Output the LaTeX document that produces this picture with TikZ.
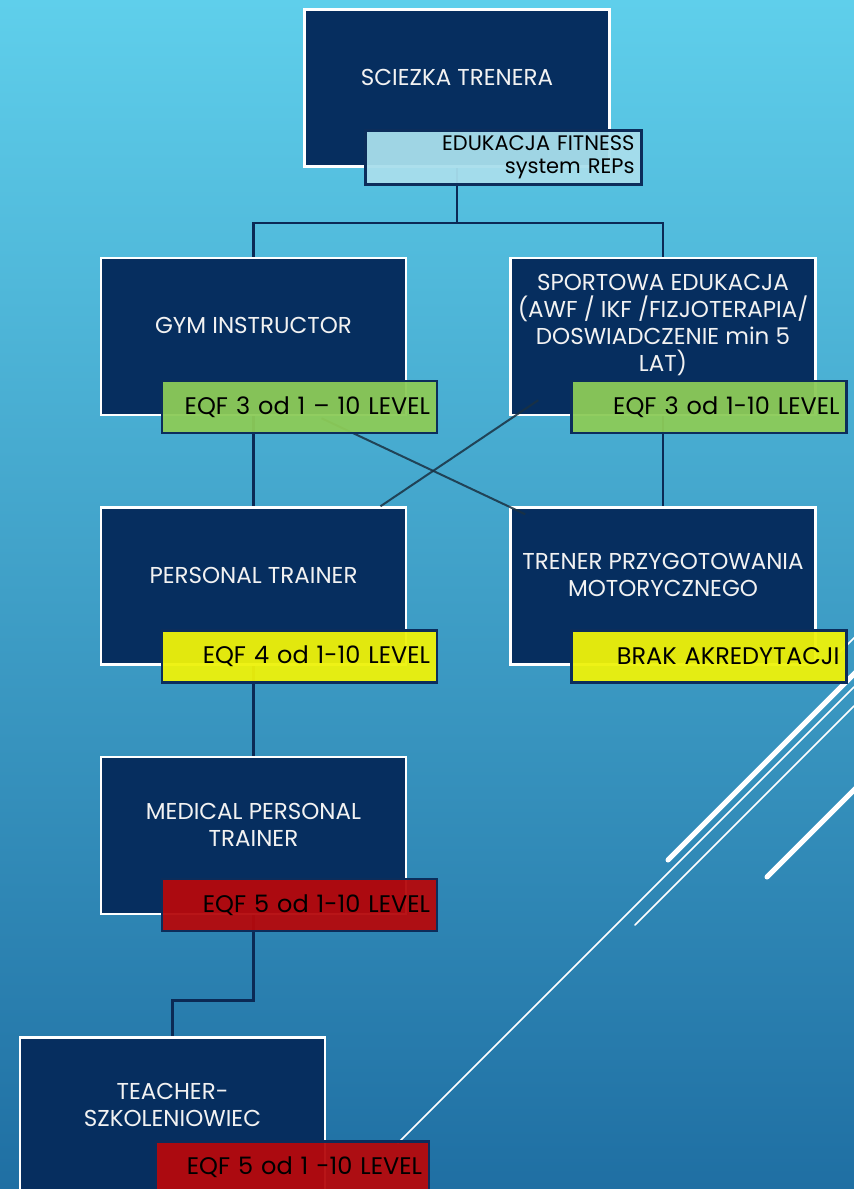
\documentclass[tikz,border=0pt]{standalone}
\usepackage{fontspec}
\setmainfont{Poppins}
\usetikzlibrary{positioning}

\definecolor{bgtop}{HTML}{5FCFEB}
\definecolor{bgbottom}{HTML}{1F6FA3}
\definecolor{navy}{HTML}{062E5F}
\definecolor{eqfedge}{HTML}{0C2D5B}
\definecolor{linknavy}{HTML}{0B2A55}
\definecolor{crossgrey}{HTML}{1A3142}
\definecolor{eqfgreen}{HTML}{8CCB58}
\definecolor{eqfyellow}{HTML}{EEF20A}
\definecolor{eqfred}{HTML}{B5090C}
\definecolor{edufill}{HTML}{A8DEEC}

\tikzset{
	stage/.style={draw=white, line width=2.5pt, fill=navy,
		minimum width=305pt, minimum height=157pt, inner sep=0pt},
	stage text/.style={text=white!95!black, align=center,
		font=\fontsize{23}{27}\selectfont},
	eqf/.style={draw=eqfedge, line width=2.5pt, fill opacity=.95, text opacity=1,
		minimum width=275pt, minimum height=52pt, text width=261pt,
		inner xsep=7pt, inner ysep=0pt, align=right, anchor=south east,
		font=\fontsize{24}{26}\selectfont},
	link/.style={draw=linknavy, line width=2.5pt},
	cross/.style={draw=crossgrey, line width=2pt, opacity=.85},
	streak/.style={white, line cap=round}
}

\begin{document}
\begin{tikzpicture}[x=1pt,y=-1pt]
	\useasboundingbox (0,0) rectangle (854,1189);
	\shade[top color=bgtop, bottom color=bgbottom] (0,0) rectangle (854,1189);

	% white streaks
	\draw[streak, line width=1.5pt] (398,1143) -- (854,687);
	\draw[streak, line width=1.5pt] (635,925) -- (854,706);
	\draw[streak, line width=1.5pt] (828,664) -- (858,634);
	\draw[streak, line width=5pt] (668,860) -- (858,670);
	\draw[streak, line width=5pt] (767,877) -- (858,786);

	% boxes
	\node[stage] (path) at (457,88) {};
	\node[stage] (gym) at (253.5,336.5) {};
	\node[stage, right=102pt of gym] (sport) {};
	\node[stage, below=90pt of gym] (personal) {};
	\node[stage, below=90pt of sport] (motor) {};
	\node[stage, below=90pt of personal] (medical) {};
	\node[stage, below=121pt of medical, xshift=-81pt] (teacher) {};

	\node[stage text] (pathtxt) at ([yshift=11pt]path.center) {SCIEZKA TRENERA};
	\node[stage text] (gymtxt) at ([yshift=11pt]gym.center) {GYM INSTRUCTOR};
	\node[stage text] (sporttxt) at ([yshift=11pt]sport.center)
		{SPORTOWA EDUKACJA\\(AWF / IKF /FIZJOTERAPIA/\\DOSWIADCZENIE min 5\\LAT)};
	\node[stage text] (personaltxt) at ([yshift=11pt]personal.center) {PERSONAL TRAINER};
	\node[stage text] (motortxt) at ([yshift=11pt]motor.center)
		{TRENER PRZYGOTOWANIA\\MOTORYCZNEGO};
	\node[stage text] (medicaltxt) at ([yshift=11pt]medical.center)
		{MEDICAL PERSONAL\\TRAINER};
	\node[stage text] (teachertxt) at ([yshift=11pt]teacher.center)
		{TEACHER-\\SZKOLENIOWIEC};

	% connectors
	\draw[link] (path.south) -- ++(0,55) -| (gym.north);
	\draw[link] (path.south) -- ++(0,55) -| (sport.north);
	\draw[link] (gym.south) -- (personal.north);
	\draw[link] (sport.south) -- (motor.north);
	\draw[link] (personal.south) -- (medical.north);
	\draw[link] (medical.south) -- ++(0,85) -| (teacher.north);

	% crossing paths
	\coordinate (gymout) at ([xshift=68pt,yshift=-2pt]gym.south);
	\coordinate (motorin) at ([shift={(16,8)}]motor.north west);
	\coordinate (personalout) at ([xshift=127pt]personal.north);
	\coordinate (sportin) at ([shift={(29,-16)}]sport.south west);
	\draw[cross] (gymout) -- (motorin);
	\draw[cross] (personalout) -- (sportin);

	% levels
	\node[eqf, fill=edufill, minimum width=276pt, minimum height=54pt, text width=262pt,
		font=\fontsize{21}{23}\selectfont]
		(edu) at ([shift={(32,18)}]path.south east) {EDUKACJA FITNESS\\system REPs};
	\node[eqf, fill=eqfgreen] (gymlvl) at ([shift={(31,18)}]gym.south east)
		{EQF 3 od 1 – 10 LEVEL};
	\node[eqf, fill=eqfgreen] (sportlvl) at ([shift={(31,18)}]sport.south east)
		{EQF 3 od 1-10 LEVEL};
	\node[eqf, fill=eqfyellow] (personallvl) at ([shift={(31,18)}]personal.south east)
		{EQF 4 od 1-10 LEVEL};
	\node[eqf, fill=eqfyellow] (motorlvl) at ([shift={(31,18)}]motor.south east)
		{BRAK AKREDYTACJI};
	\node[eqf, fill=eqfred] (medicallvl) at ([shift={(31,17)}]medical.south east)
		{EQF 5 od 1-10 LEVEL};
	\node[eqf, fill=eqfred, minimum width=273pt, text width=259pt] (teacherlvl)
		at ([shift={(104,-1)}]teacher.south east) {EQF 5 od 1 -10 LEVEL};
\end{tikzpicture}
\end{document}
